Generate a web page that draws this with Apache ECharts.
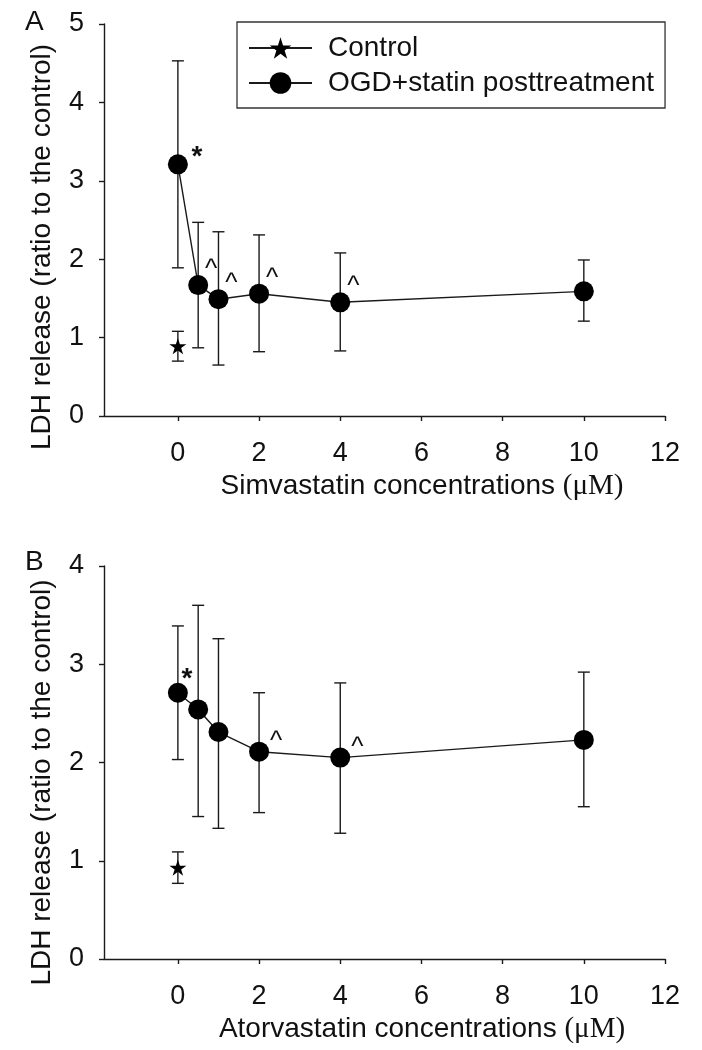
<!DOCTYPE html>
<html>
<head>
<meta charset="utf-8">
<script src="https://cdn.jsdelivr.net/npm/echarts@6/dist/echarts.min.js"></script>
<style>html,body{margin:0;padding:0;background:#fff;}#c{width:702px;height:1050px;}</style>
</head>
<body>
<div id="c"></div>
<script>
// ---- data ----
const concs = [0, 0.5, 1, 2, 4, 10];
const xTicks = [0, 2, 4, 6, 8, 10, 12];

const meanA  = [3.21, 1.67, 1.49, 1.56, 1.45, 1.59];
const upperA = [4.53, 2.47, 2.35, 2.31, 2.08, 1.99];
const lowerA = [1.89, 0.87, 0.65, 0.82, 0.83, 1.21];
const ctrlA = [0, 0.89], ctrlUpperA = 1.08, ctrlLowerA = 0.70;
const annA = ['*', '^', '^', '^', '^', ''];

const meanB  = [2.71, 2.54, 2.31, 2.11, 2.05, 2.23];
const upperB = [3.39, 3.60, 3.26, 2.71, 2.81, 2.92];
const lowerB = [2.03, 1.45, 1.33, 1.49, 1.28, 1.55];
const ctrlB = [0, 0.93], ctrlUpperB = 1.09, ctrlLowerB = 0.77;
const annB = ['*', '', '', '^', '^', ''];

const nameCtrl = 'Control';
const nameOGD = 'OGD+statin posttreatment';
const xTitleA = 'Simvastatin concentrations ';
const xTitleB = 'Atorvastatin concentrations ';
const unit = '(μM)';
const yTitle = 'LDH release (ratio to the control)';

// ---- styles ----
const FONT = 'Liberation Sans, Arial, sans-serif';
const INK = '#111';
const LINE = '#1a1a1a';
const starPath = 'path://M50 0 L61.23 34.55 L97.55 34.55 L68.16 55.9 L79.39 90.45 L50 69.1 L20.61 90.45 L31.84 55.9 L2.45 34.55 L38.77 34.55 Z';
const annOffsets = [
  {'*': [19, -7], '^': [13, -15]},
  {'*': [9, -13], '^': [17, -10]}
];

function errRender(params, api) {
  const x = api.value(0), lo = api.value(1), hi = api.value(2);
  const t = api.coord([x, hi]), b = api.coord([x, lo]);
  const w = 6;
  const st = {stroke: LINE, lineWidth: 1.4};
  return {type: 'group', children: [
    {type: 'line', shape: {x1: t[0], y1: t[1], x2: b[0], y2: b[1]}, style: st},
    {type: 'line', shape: {x1: t[0] - w, y1: t[1], x2: t[0] + w, y2: t[1]}, style: st},
    {type: 'line', shape: {x1: b[0] - w, y1: b[1], x2: b[0] + w, y2: b[1]}, style: st}
  ]};
}
const annData = [
  concs.map((x, i) => [x, meanA[i], annA[i]]).filter(d => d[2]),
  concs.map((x, i) => [x, meanB[i], annB[i]]).filter(d => d[2])
];
function annRender(panel) {
  return function (params, api) {
    const txt = annData[panel][params.dataIndex][2];
    const off = annOffsets[panel][txt] || [0, 0];
    const p = api.coord([api.value(0), api.value(1)]);
    return {type: 'text', x: p[0] + off[0], y: p[1] + off[1],
      style: {text: txt, fill: INK, font: (txt === '*' ? 'bold 28px ' : '26px ') + FONT, align: 'center', verticalAlign: 'middle'}};
  };
}

function xAxis(idx, title) {
  return {
    type: 'value', gridIndex: idx, min: -1.82, max: 12,
    axisLine: {show: true, onZero: false, lineStyle: {color: LINE, width: 1.4}},
    axisTick: {show: true, length: 5, customValues: xTicks, lineStyle: {color: LINE, width: 1.4}},
    axisLabel: {customValues: xTicks, margin: 24, color: INK, fontSize: 27, fontFamily: FONT},
    splitLine: {show: false},
    name: title + '{u|' + unit + '}', nameLocation: 'middle', nameGap: 56,
    nameTextStyle: {color: INK, fontSize: 28, fontFamily: FONT, padding: [0, 0, 0, 75],
      rich: {u: {fontFamily: 'Liberation Serif, Times New Roman, serif', fontSize: 29, color: INK}}}
  };
}
function yAxis(idx, max, shift) {
  return {
    type: 'value', gridIndex: idx, min: 0, max: max, interval: 1,
    axisLine: {show: true, onZero: false, lineStyle: {color: LINE, width: 1.4}},
    axisTick: {show: true, length: 5, lineStyle: {color: LINE, width: 1.4}},
    axisLabel: {margin: 20, color: INK, fontSize: 27, fontFamily: FONT},
    splitLine: {show: false},
    name: yTitle, nameLocation: 'middle', nameGap: 48,
    nameTextStyle: {color: INK, fontSize: 28, fontFamily: FONT, padding: [0, shift, 0, 0]}
  };
}
function panelSeries(idx, mean, upper, lower, ctrl, cu, cl) {
  return [
    {type: 'custom', xAxisIndex: idx, yAxisIndex: idx, renderItem: errRender, z: 1, silent: true,
      data: concs.map((x, i) => [x, lower[i], upper[i]]).concat([[ctrl[0], cl, cu]])},
    {type: 'line', name: nameOGD, xAxisIndex: idx, yAxisIndex: idx, z: 3,
      data: concs.map((x, i) => [x, mean[i]]), symbol: 'circle', symbolSize: 20,
      itemStyle: {color: '#000'}, lineStyle: {color: LINE, width: 1.4}},
    {type: 'line', name: nameCtrl, xAxisIndex: idx, yAxisIndex: idx, z: 3,
      data: [ctrl], symbol: starPath, symbolSize: [17, 16],
      itemStyle: {color: '#000'}, lineStyle: {color: LINE, width: 1.4}},
    {type: 'custom', xAxisIndex: idx, yAxisIndex: idx, renderItem: annRender(idx), z: 4, silent: true,
      data: annData[idx]}
  ];
}

const chart = echarts.init(document.getElementById('c'), null, {renderer: 'canvas'});
chart.setOption({
  backgroundColor: '#fff',
  animation: false,
  textStyle: {fontFamily: FONT},
  title: [
    {text: 'A', left: 20, top: 3, textStyle: {fontSize: 28, fontWeight: 'normal', color: INK, fontFamily: FONT}},
    {text: 'B', left: 20, top: 543, textStyle: {fontSize: 28, fontWeight: 'normal', color: INK, fontFamily: FONT}}
  ],
  legend: {
    data: [nameCtrl, nameOGD], orient: 'vertical', left: 237, top: 22,
    padding: [12, 11, 11, 11], itemGap: 7, itemWidth: 63, itemHeight: 27,
    borderColor: '#333', borderWidth: 1.3, selectedMode: false,
    textStyle: {fontSize: 28, color: INK, fontFamily: FONT, padding: [0, 0, 0, 11]}
  },
  grid: [
    {left: 104, top: 24, width: 561, height: 392},
    {left: 104, top: 566, width: 561, height: 393}
  ],
  xAxis: [xAxis(0, xTitleA), xAxis(1, xTitleB)],
  yAxis: [yAxis(0, 5, 54), yAxis(1, 4, 40)],
  series: panelSeries(0, meanA, upperA, lowerA, ctrlA, ctrlUpperA, ctrlLowerA)
    .concat(panelSeries(1, meanB, upperB, lowerB, ctrlB, ctrlUpperB, ctrlLowerB))
});
</script>
</body>
</html>
